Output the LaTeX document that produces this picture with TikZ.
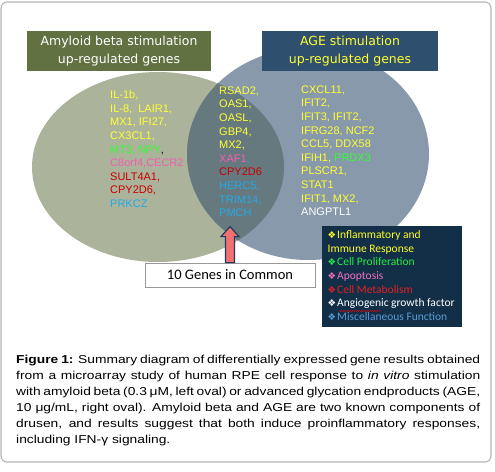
\documentclass[tikz,border=0pt]{standalone}
\usepackage{fontspec}
\setmainfont{Liberation Sans}
\newfontfamily\titlefont{DejaVu Sans}
\newfontfamily\calfont{Carlito}
\newfontfamily\symfont{DejaVu Sans}
\newfontfamily\capfont[FakeStretch=1.2]{Liberation Sans}
\usetikzlibrary{decorations.pathmorphing}
\definecolor{leftcol}{HTML}{ABB39B}
\definecolor{rightcol}{HTML}{8799AA}
\definecolor{overcol}{HTML}{66797F}
\definecolor{olivebox}{HTML}{617141}
\definecolor{navybox}{HTML}{2F4F6F}
\definecolor{legendcol}{HTML}{132F48}
\definecolor{gyellow}{HTML}{FFFF33}
\definecolor{ggreen}{HTML}{33FF33}
\definecolor{gpink}{HTML}{F060B0}
\definecolor{gred}{HTML}{C80000}
\definecolor{gblue}{HTML}{22AAE8}
\definecolor{lyellow}{HTML}{FFFF22}
\definecolor{lgreen}{HTML}{22EE44}
\definecolor{lpink}{HTML}{F070C0}
\definecolor{lred}{HTML}{E02020}
\definecolor{lblue}{HTML}{5B9BD5}
\definecolor{arrowfill}{HTML}{F47070}
\definecolor{arrowline}{HTML}{1F3B5C}
\definecolor{framecol}{HTML}{B4B4B4}
\newcommand\lbul[2]{{\color{#1}{\symfont\fontsize{9.5}{13.6}\selectfont ❖}\hspace{1pt}#2}}
\begin{document}
\begin{tikzpicture}[x=1pt,y=-1pt,
  titlebox/.style={minimum width=#1, minimum height=40pt, inner sep=0pt, align=center,
    font=\titlefont\fontsize{12.5}{18}\selectfont},
  genes/.style={anchor=north west, inner sep=0pt, align=left,
    font=\fontsize{11}{13.6}\selectfont, text=gyellow},
  legendtext/.style={anchor=north west, inner sep=0pt, align=left,
    font=\calfont\fontsize{11.5}{13.6}\selectfont},
  commonbox/.style={draw=gray!80, line width=0.8pt, fill=white, minimum width=170pt,
    minimum height=24pt, inner sep=0pt, font=\calfont\fontsize{14.5}{16}\selectfont},
  blockarrow/.style={fill=arrowfill, draw=arrowline, line width=1.2pt, line join=miter},
  framebox/.style={draw=framecol, line width=1.1pt, rounded corners=6pt}
]
\useasboundingbox (0,0) rectangle (495,471);
\fill[white] (0,0) rectangle (495,471);
\draw[framebox] (1,2) rectangle (491,462);
% ovals
\fill[leftcol] (158,167) ellipse [x radius=126, y radius=95];
\fill[rightcol] (308,154) ellipse [x radius=121, y radius=106];
\begin{scope}
  \clip (158,167) ellipse [x radius=126, y radius=95];
  \fill[overcol] (308,154) ellipse [x radius=121, y radius=106];
\end{scope}
% titles
\node[titlebox=184pt, fill=olivebox, text=white] (ltitle) at (119,51)
  {Amyloid beta stimulation\\up-regulated genes};
\node[titlebox=176pt, fill=navybox, text=gyellow] (rtitle) at (350,51)
  {AGE stimulation\\up-regulated genes};
% gene lists
\node[genes] (lgenes) at (110,90.5) {IL-1b,\\
  IL-8,\ \ LAIR1,\\
  MX1, IFI27,\\
  CX3CL1,\\
  {\color{ggreen}MT3, NPY}{\color{black},}\\
  {\color{gpink}C8orf4,CECR2}\\
  {\color{gred}SULT4A1,}\\
  {\color{gred}CPY2D6,}\\
  {\color{gblue}PRKCZ}};
\node[genes] (mgenes) at (219,86.5) {RSAD2,\\
  OAS1,\\
  OASL,\\
  GBP4,\\
  MX2,\\
  {\color{gpink}XAF1}{\color{gblue},}\\
  {\color{gred}CPY2D6}\\
  {\color{gblue}HERC5,}\\
  {\color{gblue}TRIM14,}\\
  {\color{gblue}PMCH}};
\node[genes] (rgenes) at (301,85.5) {CXCL11,\\
  IFIT2,\\
  IFIT3, IFIT2,\\
  IFRG28, NCF2\\
  CCL5, DDX58\\
  IFIH1, {\color{ggreen}PRDX3}\\
  PLSCR1,\\
  STAT1\\
  IFIT1, MX2,\\
  {\color{white}ANGPTL1}};
% common box and arrow
\node[commonbox] (common) at (230,275) {10 Genes in Common};
\draw[blockarrow] ([xshift=-4.5pt]common.north) -- ++(0,-26) -- ++(-4.5,0) -- ++(9,-10)
  -- ++(9,10) -- ++(-4.5,0) -- ++(0,26) -- cycle;
% legend
\node[fill=legendcol, minimum width=140pt, minimum height=101pt, inner sep=0pt,
  anchor=north west] (legendbox) at (322,226) {};
\node[legendtext] (legendlist) at (327.5,230.5) {\lbul{lyellow}{Inflammatory and}\\
  {\color{lyellow}Immune Response}\\
  \lbul{lgreen}{Cell Proliferation}\\
  \lbul{lpink}{Apoptosis}\\
  \lbul{lred}{Cell Metabolism}\\
  \lbul{white}{Angiogenic growth factor}\\
  \lbul{lblue}{Miscellaneous Function}};
\draw[red, line width=0.4pt, decorate, decoration={snake, amplitude=0.5pt, segment length=2.2pt}]
  (339,311) -- (381,311);
% caption
\node[anchor=north west, inner sep=0pt, text width=464pt, align=justify,
  font=\capfont\fontsize{11.5}{16}\selectfont] (caption) at (16,355)
  {\hyphenpenalty=10000 {\bfseries Figure 1:} Summary diagram of differentially expressed gene results obtained\linebreak
  from a microarray study of human RPE cell response to \textit{in vitro} stimulation\linebreak
  with amyloid beta (0.3 μM, left oval) or advanced glycation endproducts (AGE,\linebreak
  10 μg/mL, right oval). Amyloid beta and AGE are two known components of\linebreak
  drusen, and results suggest that both induce proinflammatory responses,\linebreak
  including IFN-γ signaling.};
\end{tikzpicture}
\end{document}
